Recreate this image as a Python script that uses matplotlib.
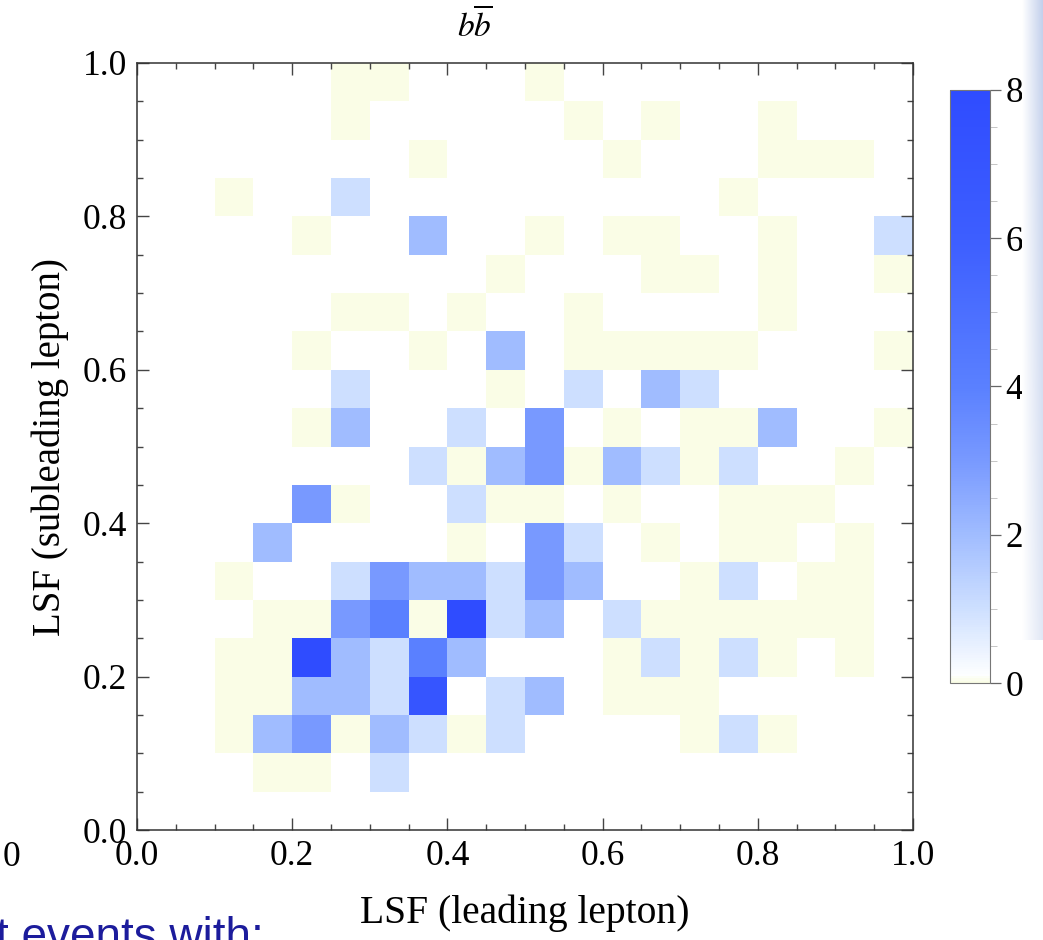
import numpy as np
import matplotlib
matplotlib.use("Agg")
import matplotlib.pyplot as plt
from matplotlib.colors import LinearSegmentedColormap, Normalize
from matplotlib.ticker import MultipleLocator

plt.rcParams["font.family"] = ["Liberation Serif", "DejaVu Serif"]
plt.rcParams["mathtext.fontset"] = "stix"

# 20x20 bins of width 0.05 on [0, 1] x [0, 1]
x_edges = np.linspace(0.0, 1.0, 21)
y_edges = np.linspace(0.0, 1.0, 21)

# bin contents, one list per y-bin from top (0.95-1.0) to bottom (0.0-0.05);
# N = empty bin (not drawn)
N = np.nan
counts_top_down = [
    [N, N, N, N, N, 0, 0, N, N, N, 0, N, N, N, N, N, N, N, N, N],  # 0.95
    [N, N, N, N, N, 0, N, N, N, N, N, 0, N, 0, N, N, 0, N, N, N],  # 0.90
    [N, N, N, N, N, N, N, 0, N, N, N, N, 0, N, N, N, 0, 0, 0, N],  # 0.85
    [N, N, 0, N, N, 1, N, N, N, N, N, N, N, N, N, 0, N, N, N, N],  # 0.80
    [N, N, N, N, 0, N, N, 2, N, N, 0, N, 0, 0, N, N, 0, N, N, 1],  # 0.75
    [N, N, N, N, N, N, N, N, N, 0, N, N, N, 0, 0, N, 0, N, N, 0],  # 0.70
    [N, N, N, N, N, 0, 0, N, 0, N, N, 0, N, N, N, N, 0, N, N, N],  # 0.65
    [N, N, N, N, 0, N, N, 0, N, 2, N, 0, 0, 0, 0, 0, N, N, N, 0],  # 0.60
    [N, N, N, N, N, 1, N, N, N, 0, N, 1, N, 2, 1, N, N, N, N, N],  # 0.55
    [N, N, N, N, 0, 2, N, N, 1, N, 3, N, 0, N, 0, 0, 2, N, N, 0],  # 0.50
    [N, N, N, N, N, N, N, 1, 0, 2, 3, 0, 2, 1, 0, 1, N, N, 0, N],  # 0.45
    [N, N, N, N, 3, 0, N, N, 1, 0, 0, N, 0, N, N, 0, 0, 0, N, N],  # 0.40
    [N, N, N, 2, N, N, N, N, 0, N, 3, 1, N, 0, N, 0, 0, N, 0, N],  # 0.35
    [N, N, 0, N, N, 1, 3, 2, 2, 1, 3, 2, N, N, 0, 1, N, 0, 0, N],  # 0.30
    [N, N, N, 0, 0, 3, 4, 0, 8, 1, 2, N, 1, 0, 0, 0, 0, 0, 0, N],  # 0.25
    [N, N, 0, 0, 8, 2, 1, 4, 2, N, N, N, 0, 1, 0, 1, 0, N, 0, N],  # 0.20
    [N, N, 0, 0, 2, 2, 1, 7, N, 1, 2, N, 0, 0, 0, N, N, N, N, N],  # 0.15
    [N, N, 0, 2, 3, 0, 2, 1, 0, 1, N, N, N, N, 0, 1, 0, N, N, N],  # 0.10
    [N, N, N, 0, 0, N, 1, N, N, N, N, N, N, N, N, N, N, N, N, N],  # 0.05
    [N, N, N, N, N, N, N, N, N, N, N, N, N, N, N, N, N, N, N, N],  # 0.00
]
counts = np.ma.masked_invalid(np.array(counts_top_down[::-1], dtype=float))

cmap = LinearSegmentedColormap.from_list("lsf", [
    (0.0, "#fafde6"), (0.012, "#fdfeff"), (0.125, "#cddfff"),
    (0.25, "#a0bcff"), (0.375, "#7899ff"), (0.5, "#5a80ff"),
    (0.75, "#3d5eff"), (1.0, "#2f4cff")])
norm = Normalize(vmin=0, vmax=8)

fig = plt.figure(figsize=(10.43, 9.4), dpi=100)
ax = fig.add_axes([0.1314, 0.117, 0.744, 0.816])
ax.pcolormesh(x_edges, y_edges, counts, cmap=cmap, norm=norm,
              edgecolors="none", antialiased=False)
ax.set_xlim(0, 1)
ax.set_ylim(0, 1)

ax.xaxis.set_major_locator(MultipleLocator(0.2))
ax.yaxis.set_major_locator(MultipleLocator(0.2))
ax.xaxis.set_minor_locator(MultipleLocator(0.05))
ax.yaxis.set_minor_locator(MultipleLocator(0.05))
ax.xaxis.set_major_formatter(lambda v, p: f"{v:.1f}")
ax.yaxis.set_major_formatter(lambda v, p: f"{v:.1f}")
ax.tick_params(which="both", direction="in", top=True, right=True,
               color="#444444", width=1.0)
ax.tick_params(which="major", length=8.5, labelsize=25.5, pad=7)
ax.tick_params(which="minor", length=4.5)
for sp in ax.spines.values():
    sp.set_color("#333333")
    sp.set_linewidth(1.1)

ax.set_xlabel("LSF (leading lepton)", fontsize=28.5, labelpad=16)
ax.set_ylabel("LSF (subleading lepton)", fontsize=28, labelpad=10)
fig.text(475 / 1043, 1 - 26 / 940, r"$b\overline{b}$", fontsize=24,
         ha="center", va="center")

# colour legend
cax = fig.add_axes([0.9108, 0.2734, 0.0384, 0.631])
cb = fig.colorbar(plt.cm.ScalarMappable(norm=norm, cmap=cmap), cax=cax,
                  ticks=[0, 2, 4, 6, 8])
cb.outline.set_edgecolor("#777777")
cb.outline.set_linewidth(0.8)
cax.yaxis.set_minor_locator(MultipleLocator(0.5))
cax.tick_params(which="major", length=8, width=0.9, color="#666666",
                labelsize=25.5, pad=3)
cax.tick_params(which="minor", length=5, width=0.6, color="#bbbbbb")

# leftovers of the surrounding slide
fig.text(12 / 1043, 1 - 858 / 940, "0", fontsize=25.5, ha="center",
         va="center")
fig.text(-4 / 1043, 1 - 950 / 940, "t events with:", fontsize=33,
         family=["Liberation Sans", "DejaVu Sans"], color="#1c1c9c",
         ha="left", va="baseline")
strip = fig.add_axes([1022 / 1043, 1 - 640 / 940, 21 / 1043, 640 / 940])
grad = np.linspace(0.0, 1.0, 32)[None, :] * np.linspace(0.5, 1.0, 64)[:, None]
strip.imshow(grad, aspect="auto", origin="lower", extent=[0, 1, 0, 1],
             cmap=LinearSegmentedColormap.from_list("s", ["#ffffff", "#c3d0ec"]))
strip.set_axis_off()

fig.savefig("out.png", dpi=100)
